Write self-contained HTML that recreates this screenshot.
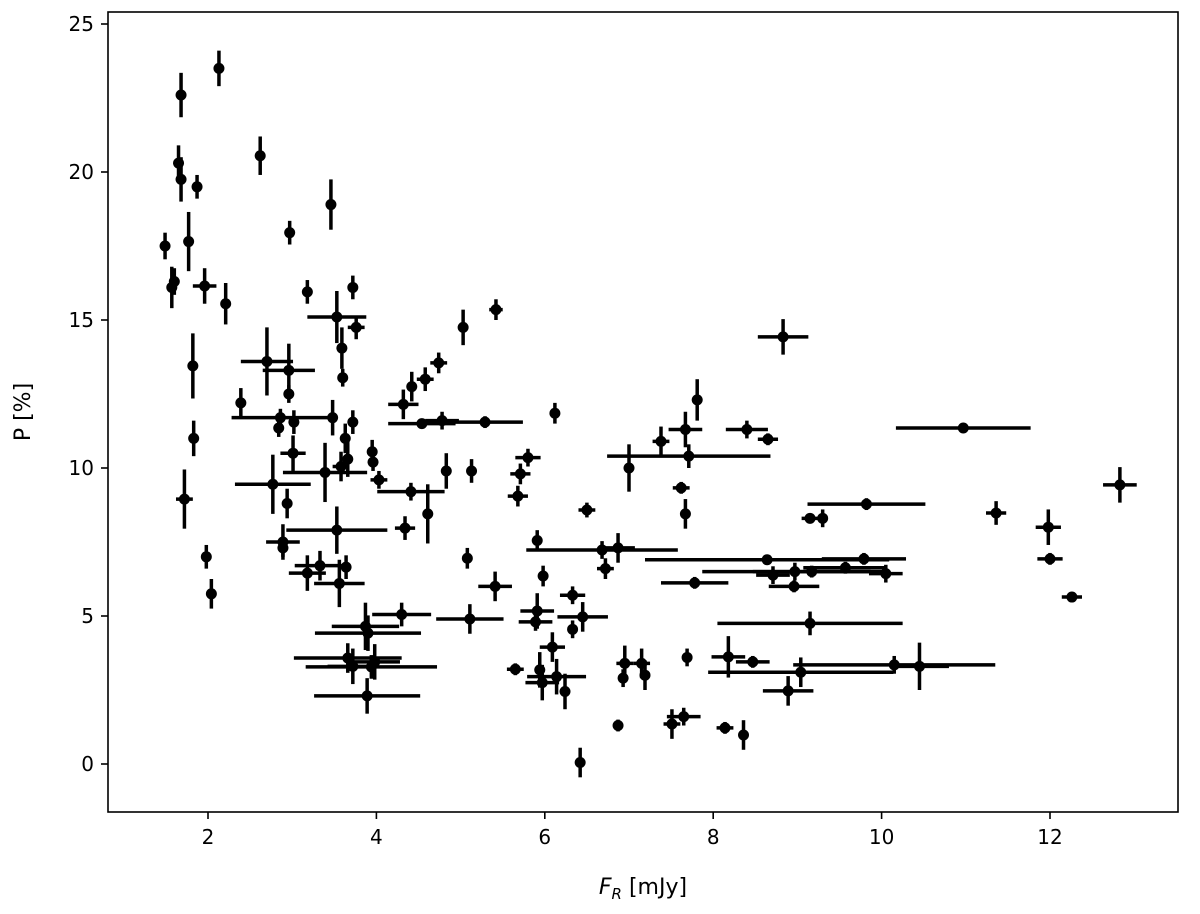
<!DOCTYPE html>
<html><head><meta charset="utf-8"><style>
html,body{margin:0;padding:0;background:#fff}
svg{display:block}
text{font-family:"DejaVu Sans","Liberation Sans",sans-serif;fill:#000}
</style></head><body>
<svg id="chart" width="1200" height="914" viewBox="0 0 1200 914" xmlns="http://www.w3.org/2000/svg">
<g id="marks"></g>
<rect x="108" y="12" width="1070" height="800" fill="none" stroke="#000" stroke-width="1.6"/>
<g id="xticks"></g>
<g id="yticks"></g>
<text x="643" y="894" font-size="22" text-anchor="middle"><tspan font-style="italic">F</tspan><tspan font-style="italic" font-size="15" dy="5">R</tspan><tspan dy="-5"> [mJy]</tspan></text>
<text x="0" y="0" font-size="22" text-anchor="middle" transform="translate(30,412) rotate(-90)">P [%]</text>
</svg>
<script>
const xVals=[1.68,2.13,1.65,1.68,1.87,2.62,3.46,2.97,1.49,1.77,1.57,1.6,1.96,2.21,3.18,3.53,3.72,3.76,3.59,3.6,1.82,2.7,2.96,2.96,5.03,5.42,2.39,2.86,3.02,3.48,3.72,4.32,4.42,4.58,4.74,4.54,4.78,5.29,6.12,2.84,1.83,3.01,3.63,3.66,3.58,3.95,3.96,4.03,3.39,2.77,2.94,4.41,4.83,4.61,1.72,1.98,2.04,3.53,4.34,2.89,2.89,3.18,3.33,3.56,3.64,4.3,3.87,3.9,3.66,3.94,3.72,3.98,3.89,5.13,5.8,5.71,5.68,6.5,5.91,6.68,6.87,6.72,5.08,5.98,5.41,5.11,5.91,5.89,6.33,6.45,6.33,6.09,5.65,5.94,6.14,5.97,6.24,6.87,6.42,8.83,7.81,7.67,8.4,8.65,7.38,7.71,7.0,7.62,7.67,9.82,9.15,9.3,8.64,9.79,8.71,8.97,9.17,9.57,10.05,8.96,7.78,9.15,8.18,8.47,7.69,9.04,10.15,10.45,8.89,6.95,6.93,7.15,7.19,7.51,7.65,8.14,8.36,10.97,11.36,11.98,12.0,12.26,12.83];
const yVals=[22.6,23.5,20.3,19.75,19.5,20.55,18.9,17.95,17.5,17.65,16.1,16.3,16.15,15.55,15.95,15.1,16.1,14.75,14.05,13.05,13.45,13.6,13.3,12.5,14.75,15.35,12.2,11.7,11.55,11.7,11.55,12.15,12.75,13.0,13.55,11.5,11.6,11.55,11.85,11.35,11.0,10.5,11.0,10.3,10.05,10.55,10.2,9.6,9.85,9.45,8.8,9.2,9.9,8.45,8.95,7.0,5.75,7.9,7.97,7.5,7.3,6.45,6.7,6.1,6.65,5.05,4.65,4.42,3.58,3.28,3.3,3.45,2.3,9.9,10.35,9.8,9.05,8.58,7.55,7.23,7.3,6.6,6.95,6.35,6.0,4.9,5.17,4.8,5.7,4.97,4.55,3.95,3.2,3.18,2.95,2.75,2.45,1.3,0.05,14.43,12.3,11.3,11.3,10.97,10.9,10.4,10.0,9.33,8.45,8.78,8.3,8.3,6.9,6.93,6.38,6.5,6.5,6.63,6.43,6.0,6.12,4.75,3.62,3.45,3.6,3.1,3.35,3.3,2.47,3.4,2.9,3.4,3.0,1.35,1.6,1.22,0.98,11.35,8.48,8.0,6.93,5.64,9.43];
const xErr=[0,0,0,0,0,0,0,0,0,0,0,0,0.14,0,0,0.35,0.05,0.1,0,0,0,0.31,0.31,0,0,0.08,0,0.58,0,0.05,0,0.18,0,0.1,0.1,0.4,0.2,0.45,0,0,0,0.15,0,0,0.1,0,0,0.1,0.5,0.45,0,0.4,0,0,0.1,0,0,0.6,0.12,0.2,0,0.22,0.3,0.3,0,0.35,0.4,0.63,0.64,0.78,0.3,0.3,0.63,0,0.15,0.12,0.12,0.1,0,0.9,0.2,0.1,0,0,0.2,0.4,0.2,0.2,0.15,0.3,0,0.15,0.1,0,0.35,0.2,0,0,0,0.3,0,0.2,0.25,0.12,0.1,0.97,0,0.1,0,0.7,0.1,0,1.45,0.5,0.2,1.1,0.7,0.5,0.2,0.3,0.4,1.1,0.2,0.2,0,1.1,1.2,0.35,0.3,0.1,0,0.1,0,0.1,0.2,0.1,0,0.8,0.12,0.15,0.15,0.12,0.2];
const yErr=[0.75,0.6,0.6,0.75,0.4,0.65,0.85,0.4,0.45,1.0,0.7,0.45,0.6,0.7,0.4,0.88,0.4,0.4,0.7,0.3,1.1,1.15,0.9,0.3,0.6,0.35,0.5,0.3,0.4,0.6,0.4,0.5,0.5,0.4,0.35,0,0.3,0.2,0.35,0.3,0.6,0.6,0.5,0.6,0.5,0.4,0.3,0.3,1.0,1.0,0.5,0.3,0.6,1.0,1.0,0.4,0.5,0.8,0.4,0.6,0.3,0.6,0.5,0.8,0.4,0.4,0.8,0.6,0.5,0.4,0.6,0.6,0.6,0.4,0.3,0.35,0.35,0.25,0.35,0.3,0.5,0.35,0.35,0.35,0.5,0.5,0.6,0.3,0.3,0.5,0.3,0.5,0.2,0.6,0.6,0.6,0.6,0.2,0.5,0.6,0.7,0.6,0.3,0.2,0.5,0.4,0.8,0.2,0.5,0.2,0.1,0.3,0.1,0.2,0.3,0.3,0.2,0.2,0.3,0.2,0.2,0.4,0.7,0.2,0.3,0.5,0.3,0.8,0.5,0.6,0.3,0.5,0.5,0.5,0.3,0.2,0.5,0.1,0.4,0.6,0.2,0.1,0.6];
const xTickVals=[2,4,6,8,10,12];
const yTickVals=[0,5,10,15,20,25];

const NS='http://www.w3.org/2000/svg';
function sx(v){return 39.6+v*84.2;}
function sy(v){return 764-v*29.6;}
function mk(tag,attrs,parent){const e=document.createElementNS(NS,tag);for(const k in attrs)e.setAttribute(k,attrs[k]);parent.appendChild(e);return e;}
const marks=document.getElementById('marks');
for(let i=0;i<xVals.length;i++){
  const g=mk('g',{},marks);
  
  
  const cx=sx(xVals[i]),cy=sy(yVals[i]);
  if(xErr[i]>0){const l=mk('line',{x1:sx(xVals[i]-xErr[i]),x2:sx(xVals[i]+xErr[i]),y1:cy,y2:cy,stroke:'#000','stroke-width':3.5},g);
    
    }
  if(yErr[i]>0){const l=mk('line',{x1:cx,x2:cx,y1:sy(yVals[i]-yErr[i]),y2:sy(yVals[i]+yErr[i]),stroke:'#000','stroke-width':3.5},g);
    
    }
  const c=mk('circle',{cx:cx,cy:cy,r:5.5,fill:'#000'},g);
  
  
}
const xt=document.getElementById('xticks');
xTickVals.forEach(v=>{
  const x=sx(v);
  const t=mk('line',{x1:x,x2:x,y1:812,y2:819,stroke:'#000','stroke-width':1.6},xt);
  
  
  const l=mk('text',{x:x,y:844,'font-size':20,'text-anchor':'middle'},xt);
  l.textContent=v;
  
  
});
const yt=document.getElementById('yticks');
yTickVals.forEach(v=>{
  const y=sy(v);
  const t=mk('line',{x1:101,x2:108,y1:y,y2:y,stroke:'#000','stroke-width':1.6},yt);
  
  
  const l=mk('text',{x:94,y:y+7,'font-size':20,'text-anchor':'end'},yt);
  l.textContent=v;
  
  
});
</script>
</body></html>
